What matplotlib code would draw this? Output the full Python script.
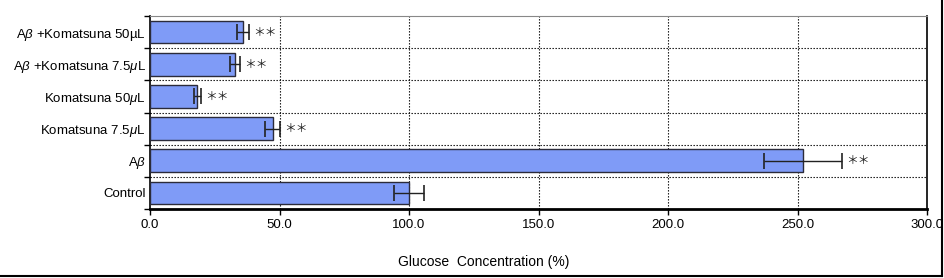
import matplotlib.pyplot as plt
from matplotlib.lines import Line2D
import numpy as np

plt.rcParams['font.family'] = ['Liberation Sans', 'DejaVu Sans']
plt.rcParams['mathtext.fontset'] = 'custom'
plt.rcParams['mathtext.rm'] = 'Liberation Sans'
plt.rcParams['mathtext.it'] = 'Liberation Sans:italic'

# bottom to top
labels = ["Control", r"A$\beta$", r"Komatsuna 7.5$\mu$L", r"Komatsuna 50$\mu$L",
          r"A$\beta$ +Komatsuna 7.5$\mu$L", r"A$\beta$ +Komatsuna 50µL"]
values = [100.0, 252.2, 47.3, 18.3, 32.8, 35.8]
errors = [5.9, 15.1, 2.9, 1.3, 2.1, 2.4]
signif = ["", "＊＊", "＊＊", "＊＊", "＊＊", "＊＊"]
xticks = [0, 50, 100, 150, 200, 250, 300]

fig = plt.figure(figsize=(9.44, 2.78), dpi=100)
ax = fig.add_axes([150/944, 1-209/278, 777/944, 193/278])

y = np.arange(len(labels))
ax.barh(y, values, height=0.7, color="#7F9BF7", edgecolor="#2b2b3a", linewidth=1, zorder=3)
ax.errorbar(values, y, xerr=errors, fmt="none", ecolor="#222222", elinewidth=1,
            capsize=5.8, capthick=1.2, zorder=4)
for yi, v, e, s in zip(y, values, errors, signif):
    if s:
        ax.annotate(s, (v + e, yi), xytext=(3, 0), textcoords="offset points",
                    va="center", ha="left", fontsize=8.5,
                    family=["Noto Sans CJK JP", "DejaVu Sans"], color="#222222")

ax.set_xlim(0, 300)
ax.set_ylim(-0.5, len(labels) - 0.5)
ax.set_xticks(xticks)
ax.set_xticklabels([f"{t:.1f}" for t in xticks], fontsize=9.5)
ax.set_yticks(y)
ax.set_yticklabels(labels, fontsize=9.5)
ax.set_yticks(np.arange(len(labels) + 1) - 0.5, minor=True)
ax.tick_params(axis="y", which="major", length=0, pad=3)
ax.tick_params(axis="y", which="minor", length=4, width=1, direction="out")
ax.tick_params(axis="x", length=4, width=1, direction="out", pad=3)

for xv in xticks[1:-1]:
    ax.axvline(xv, color="black", linestyle=(0, (1.2, 1.5)), linewidth=0.8, zorder=1)
for yv in np.arange(len(labels) - 1) + 0.5:
    ax.axhline(yv, color="black", linestyle=(0, (1.2, 1.5)), linewidth=0.8, zorder=1)

ax.spines["top"].set_color("#888888")
ax.spines["bottom"].set_linewidth(2)
ax.spines["left"].set_linewidth(1.2)
ax.spines["right"].set_linewidth(1.2)

fig.text(484/944, 1-262/278, "Glucose  Concentration (%)", ha="center", va="center", fontsize=10)

# frame lines on right and bottom of figure
fig.add_artist(Line2D([942/944, 942/944], [1-276/278, 1], transform=fig.transFigure,
                      color="black", linewidth=1.5))
fig.add_artist(Line2D([0, 942/944], [1-276/278, 1-276/278], transform=fig.transFigure,
                      color="black", linewidth=1.5))

fig.savefig("out.png", dpi=100)
